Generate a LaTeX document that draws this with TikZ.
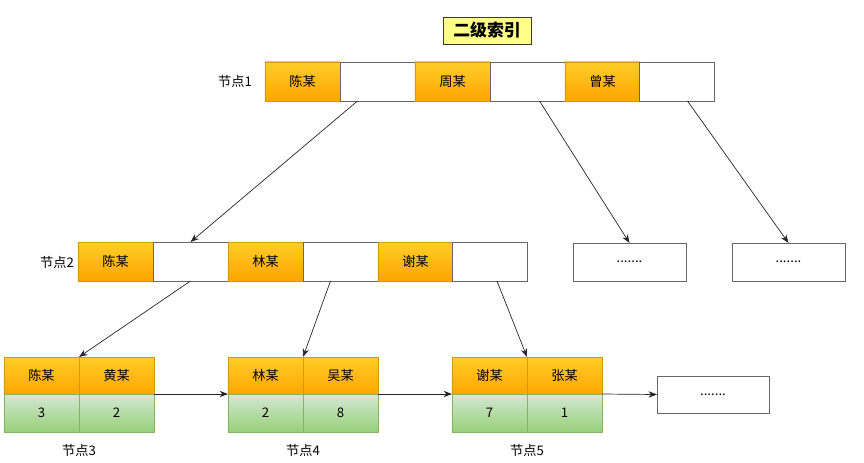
\documentclass[tikz,border=0pt]{standalone}
\usepackage{fontspec}
\setmainfont{Noto Sans CJK SC}
\usetikzlibrary{calc,arrows.meta}

\definecolor{keytop}{HTML}{FFCD28}
\definecolor{keybot}{HTML}{FFA500}
\definecolor{keyline}{HTML}{D79B00}
\definecolor{valtop}{HTML}{D5E8D4}
\definecolor{valbot}{HTML}{97D077}
\definecolor{valline}{HTML}{82B366}
\definecolor{ptrline}{HTML}{666666}
\definecolor{titlefill}{HTML}{FFFF88}
\definecolor{titleline}{HTML}{36393D}

\begin{document}
\begin{tikzpicture}[x=0.025cm, y=-0.025cm]
			% Define styles
			\tikzstyle{cell} = [rectangle, inner sep=0pt, outer sep=0pt, minimum width=1.875cm, minimum height=0.975cm, text centered, font=\fontsize{9.4}{11}\selectfont]
			\tikzstyle{keycell} = [cell, draw=keyline, top color=keytop, bottom color=keybot]
			\tikzstyle{ptrcell} = [cell, draw=ptrline, fill=white]
			\tikzstyle{leafkey} = [keycell, minimum height=0.925cm]
			\tikzstyle{leafval} = [cell, minimum height=0.95cm, draw=valline, top color=valtop, bottom color=valbot]
			\tikzstyle{morebox} = [ptrcell, minimum width=2.825cm, minimum height=0.95cm]
			\tikzstyle{label} = [font=\fontsize{9.4}{11}\selectfont]
			\tikzstyle{arrow} = [line width=0.5pt, draw=black!85, ->, >={Stealth[length=6pt,width=4.5pt]}]
			\useasboundingbox (0,0) rectangle (864,462);

			% Title
			\node (title) [draw=titleline, fill=titlefill, inner sep=0pt, minimum width=2.2cm, minimum height=0.675cm, font=\fontsize{12}{14}\selectfont\bfseries] at (487,30.5) {二级索引};

			% Node 1
			\node (lab1) [label] at (235,81) {节点1};
			\node (n1a) [keycell] at (302.5,81.5) {陈某};
			\node (n1b) [ptrcell] at (377.5,81.5) {};
			\node (n1c) [keycell] at (452.5,81.5) {周某};
			\node (n1d) [ptrcell] at (527.5,81.5) {};
			\node (n1e) [keycell] at (602.5,81.5) {曾某};
			\node (n1f) [ptrcell] at (676.5,81.5) {};

			% Node 2
			\node (lab2) [label] at (57,262) {节点2};
			\node (n2a) [keycell] at (115.5,261.5) {陈某};
			\node (n2b) [ptrcell] at (190.5,261.5) {};
			\node (n2c) [keycell] at (265.5,261.5) {林某};
			\node (n2d) [ptrcell] at (340.5,261.5) {};
			\node (n2e) [keycell] at (415.5,261.5) {谢某};
			\node (n2f) [ptrcell] at (490,261.5) {};

			\node (dots1) [morebox] at (629.5,262) {.......};
			\node (dots2) [morebox] at (788.5,262) {.......};

			% Leaf nodes
			\node (n3a) [leafkey] at (41.5,375.5) {陈某};
			\node (n3b) [leafkey] at (116.5,375.5) {黄某};
			\node (v3a) [leafval] at (41.5,413) {3};
			\node (v3b) [leafval] at (116.5,413) {2};
			\node (lab3) [label] at (79,450) {节点3};

			\node (n4a) [leafkey] at (265.5,375.5) {林某};
			\node (n4b) [leafkey] at (340.5,375.5) {吴某};
			\node (v4a) [leafval] at (265.5,413) {2};
			\node (v4b) [leafval] at (340.5,413) {8};
			\node (lab4) [label] at (303,450) {节点4};

			\node (n5a) [leafkey] at (489.5,375.5) {谢某};
			\node (n5b) [leafkey] at (564.5,375.5) {张某};
			\node (v5a) [leafval] at (489.5,413) {7};
			\node (v5b) [leafval] at (564.5,413) {1};
			\node (lab5) [label] at (527,450) {节点5};

			\node (dots3) [morebox, minimum width=2.8cm, minimum height=0.925cm] at (713,394.5) {.......};

			% Arrows
			\draw [arrow] ($(n1b.south)+(-20,0)$) -- (n2b.north);
			\draw [arrow] ($(n1d.south)+(12,0)$) -- (dots1.north);
			\draw [arrow] ($(n1f.south)+(11,0)$) -- (dots2.north);
			\draw [arrow] (n2b.south) -- (n3a.north east);
			\draw [arrow] ($(n2d.south)+(-10,0)$) -- (n4a.north east);
			\draw [arrow] ($(n2f.south)+(7,0)$) -- (n5a.north east);
			\draw [arrow] (n3b.south east) -- (n4a.south west);
			\draw [arrow] (n4b.south east) -- (n5a.south west);
			\draw [arrow] (n5b.south east) -- (dots3.west);
		\end{tikzpicture}
\end{document}
